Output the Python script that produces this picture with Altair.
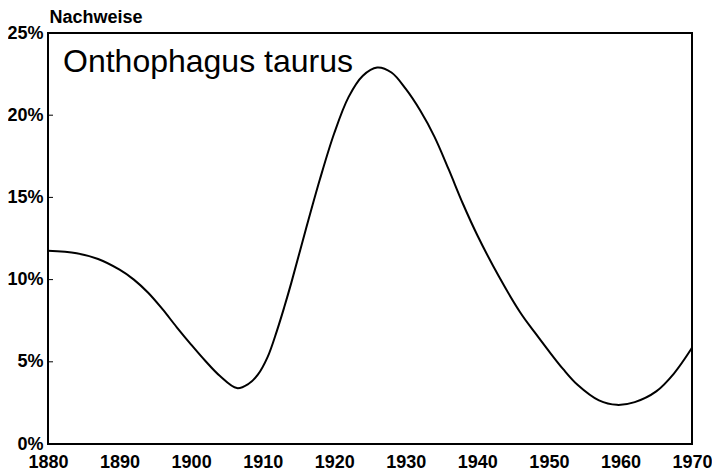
import altair as alt
import pandas as pd

years = [1880, 1884, 1887, 1890, 1892, 1894, 1896, 1898, 1900, 1902, 1904, 1906.4,
         1908, 1909.3, 1910.7, 1912, 1913, 1914, 1916, 1918, 1920, 1922, 1924, 1926,
         1928, 1930, 1932, 1934, 1936, 1938, 1940, 1943, 1946, 1948, 1950, 1952,
         1954, 1957, 1959.5, 1962, 1965, 1967.5, 1970]
share = [11.75, 11.6, 11.25, 10.6, 10.0, 9.2, 8.2, 7.1, 6.05, 5.05, 4.15, 3.4,
         3.65, 4.2, 5.3, 6.9, 8.3, 9.8, 13.0, 16.1, 18.9, 21.1, 22.4, 22.9,
         22.6, 21.6, 20.3, 18.7, 16.7, 14.6, 12.7, 10.2, 8.0, 6.8, 5.65, 4.55,
         3.6, 2.65, 2.38, 2.55, 3.2, 4.3, 5.85]

y_ticks = [0, 5, 10, 15, 20, 25]
x_ticks = [1880, 1890, 1900, 1910, 1920, 1930, 1940, 1950, 1960, 1970]
species = "Onthophagus taurus"
y_title = "Nachweise"

df = pd.DataFrame({"year": years, "share": share})
FONT = "Liberation Sans"

xscale = alt.Scale(domain=[1880, 1970], nice=False, zero=False)
yscale = alt.Scale(domain=[0, 25], nice=False)

line = alt.Chart(df).mark_line(color="black", strokeWidth=2, interpolate="catmull-rom").encode(
    x=alt.X("year:Q", scale=xscale,
            axis=alt.Axis(values=x_ticks, format="d", title=None, grid=False,
                          ticks=False, domain=False, labelFont=FONT,
                          labelFontWeight="bold", labelFontSize=18,
                          labelColor="black", labelPadding=9, labelFlush=False)),
    y=alt.Y("share:Q", scale=yscale,
            axis=alt.Axis(values=y_ticks, labelExpr="datum.value + '%'",
                          title=y_title, titleAngle=0, titleAlign="left",
                          titleX=1, titleY=-11, titleBaseline="alphabetic",
                          titleFont=FONT, titleFontWeight="bold", titleFontSize=18,
                          titleColor="black", grid=False, ticks=False,
                          domain=False, labelFont=FONT, labelFontWeight="bold",
                          labelFontSize=18, labelColor="black", labelPadding=5)),
)

tick_df = pd.DataFrame({"t": y_ticks[1:-1]})
ticks = alt.Chart(tick_df).mark_rule(color="black", strokeWidth=1).encode(
    y=alt.Y("t:Q", scale=yscale),
    x=alt.value(0), x2=alt.value(5),
)

label = alt.Chart(pd.DataFrame({"s": [species]})).mark_text(
    font=FONT, fontSize=32, color="black", align="left", baseline="alphabetic"
).encode(text="s:N", x=alt.value(15), y=alt.value(39))

chart = alt.layer(line, ticks, label).properties(
    width=644, height=411,
    autosize=alt.AutoSizeParams(type="none"),
    padding={"left": 40, "top": 25, "right": 20, "bottom": 30},
).configure_view(stroke="black", strokeWidth=2)

chart.save("out.html", embed_options={"renderer": "svg", "actions": False})
